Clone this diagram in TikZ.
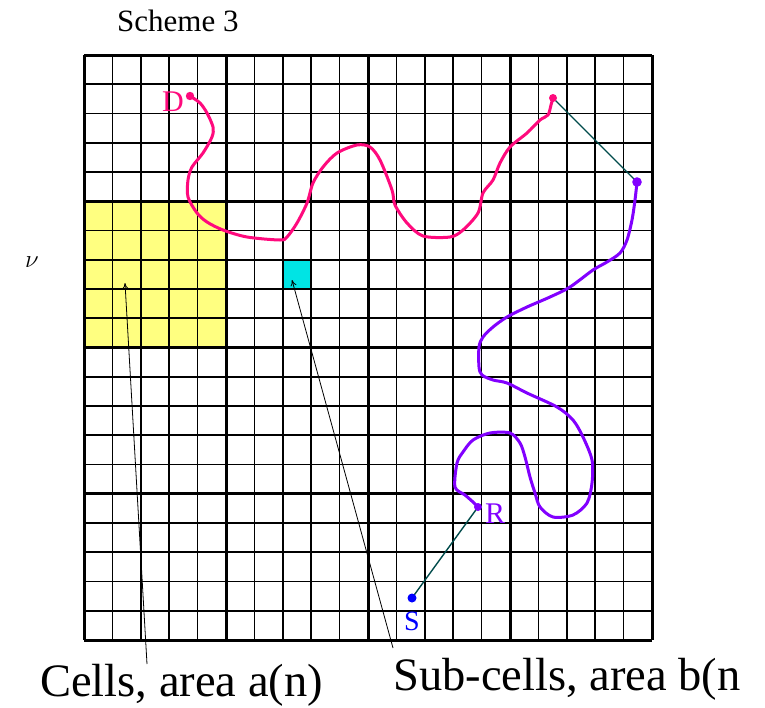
\documentclass[tikz,border=0pt]{standalone}
\usepackage{fontspec}
\setmainfont{Liberation Serif}
\usetikzlibrary{arrows.meta}
\definecolor{pinkc}{RGB}{255,10,125}
\definecolor{purplec}{RGB}{130,0,255}
\definecolor{tealc}{RGB}{0,75,75}
\definecolor{yellowc}{RGB}{255,255,128}
\definecolor{cyanc}{RGB}{0,228,228}
\definecolor{bluec}{RGB}{0,0,255}
\tikzset{
  thin grid/.style={line width=1.6pt, draw=black},
  thick grid/.style={line width=3pt, draw=black},
  pathcurve/.style={line width=3pt, line join=round, line cap=round},
  jump/.style={line width=1.4pt, draw=tealc},
  pointer/.style={line width=0.8pt, draw=black, -{To[length=6pt,width=6pt]}},
  bigtext/.style={font=\fontsize{46.5}{50}\selectfont, inner sep=0pt},
  ptlabel/.style={font=\fontsize{30}{32}\selectfont, inner sep=0pt}
}
\begin{document}
\begin{tikzpicture}[x=1pt,y=-1pt]
\useasboundingbox (0,0) rectangle (765,707);
\fill[white] (0,0) rectangle (765,707);
% fills
\fill[yellowc] (84,201.25) rectangle (226,347.5);
\fill[cyanc] (282.8,259.75) rectangle (311.2,289);
% grid
\foreach \i in {1,2,3,4,6,7,8,9,11,12,13,14,16,17,18,19} {
  \draw[thin grid] ({84+\i*28.4},55) -- ({84+\i*28.4},640);
  \draw[thin grid] (84,{55+\i*29.25}) -- (652,{55+\i*29.25});
}
\foreach \i in {0,5,10,15,20} {
  \draw[thick grid] ({84+\i*28.4},55) -- ({84+\i*28.4},640);
  \draw[thick grid] (84,{55+\i*29.25}) -- (652,{55+\i*29.25});
}
% key points
\coordinate (d) at (190,96);
\coordinate (p1) at (553,98);
\coordinate (p2) at (637,182);
\coordinate (r) at (478,507);
\coordinate (s) at (412,598);
% pink path
\draw[pathcurve, pinkc] plot[smooth, tension=0.5] coordinates {
 (190,96) (200,103) (207,113) (213,127) (212,137) (203,153) (192,167) (188,180)
 (188,197) (197,213) (207,222) (223,230) (247,237) (280,240) (287,237) (297,223)
 (307,203) (313,183) (323,167) (337,153) (357,145) (370,147) (380,160)
 (392,190) (395,205) (407,223) (423,236) (450,237) (463,230) (478,213) (483,193)
 (493,180) (500,163) (510,147) (527,133) (540,120) (548,115) (551,105) (553,98)};
% purple path
\draw[pathcurve, purplec] plot[smooth, tension=0.5] coordinates {
 (637,182) (635,200) (632,220) (627,240) (620,253) (607,262) (593,270) (570,287)
 (550,297) (527,307) (507,317) (493,327) (483,337) (479,347) (479,367) (482,375)
 (493,380) (507,383) (527,393) (557,407) (573,420) (583,437) (592,460) (592,483)
 (587,503) (573,515) (553,517) (540,507) (535,493) (530,477) (525,457) (520,443)
 (510,433) (490,433) (473,440) (463,452) (457,463) (455,487) (465,495) (473,502) (478,507)};
% jumps
\draw[jump] (p1) -- (p2);
\draw[jump] (r) -- (s);
% dots
\fill[pinkc] (d) circle (4.2);
\fill[pinkc] (p1) circle (4);
\fill[purplec] (p2) circle (4.8);
\fill[purplec] (r) circle (4);
\fill[bluec] (s) circle (4.5);
% labels
\node[ptlabel, text=pinkc, anchor=base east] (dl) at (184,111) {D};
\node[ptlabel, text=purplec, anchor=base west] (rl) at (485,523) {R};
\node[ptlabel, text=bluec, anchor=base, font=\fontsize{28}{30}\selectfont] (sl) at (412,630) {S};
\node[font=\fontsize{31}{34}\selectfont, anchor=base west, inner sep=0pt] (title) at (117,31) {Scheme 3};
\node[font=\fontsize{30}{32}\selectfont, inner sep=0pt] (nu) at (32,262) {$\nu$};
\node[bigtext, anchor=base west] (cells) at (40,696) {Cells, area a(n)};
\node[bigtext, anchor=base west] (subcells) at (393,690) {Sub-cells, area b(n};
% pointers
\coordinate (c1) at (147,664);
\coordinate (c1t) at (125,283);
\coordinate (c2) at (393,648);
\coordinate (c2t) at (292,280);
\draw[pointer] (c1) -- (c1t);
\draw[pointer] (c2) -- (c2t);
\end{tikzpicture}
\end{document}
